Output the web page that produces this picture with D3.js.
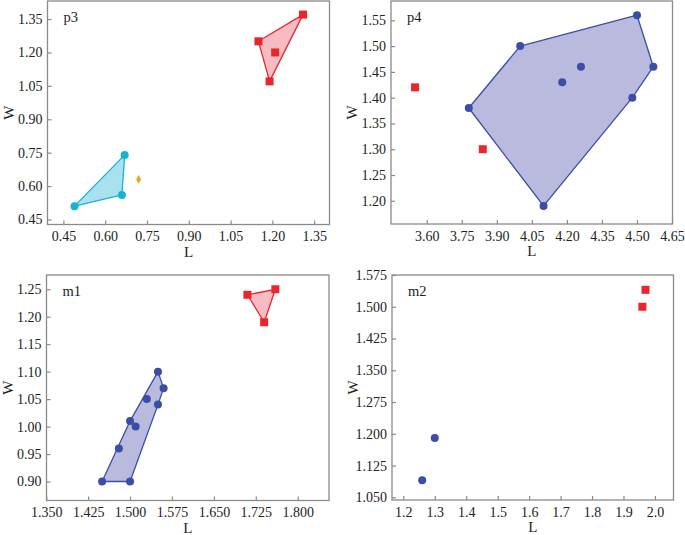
<!DOCTYPE html>
<html><head><meta charset="utf-8">
<script src="https://cdn.jsdelivr.net/npm/d3@7"></script>
<style>body{margin:0;background:#fff}svg{display:block}</style>
</head><body>
<svg id="c" width="685" height="535"></svg>
<script>
// ---- data ----
// p3
const p3Red = [[1.15,1.25],[1.31,1.37],[1.19,1.07],[1.21,1.20]];
const p3Cyan = [[0.49,0.51],[0.67,0.74],[0.66,0.56]];
const p3Orange = [[0.72,0.63]];
const p3XTicks = [0.45,0.60,0.75,0.90,1.05,1.20,1.35];
const p3YTicks = [0.45,0.60,0.75,0.90,1.05,1.20,1.35];
// p4
const p4Blue = [[4.00,1.50],[4.50,1.56],[4.57,1.46],[4.48,1.40],[4.10,1.19],[3.78,1.38],[4.18,1.43],[4.26,1.46]];
const p4Red = [[3.55,1.42],[3.84,1.30]];
const p4XTicks = [3.60,3.75,3.90,4.05,4.20,4.35,4.50,4.65];
const p4YTicks = [1.20,1.25,1.30,1.35,1.40,1.45,1.50,1.55];
// m1
const m1Red = [[1.71,1.24],[1.76,1.25],[1.74,1.19]];
const m1Blue = [[1.45,0.90],[1.50,0.90],[1.48,0.96],[1.50,1.01],[1.51,1.00],[1.53,1.05],[1.55,1.10],[1.56,1.07],[1.55,1.04]];
const m1XTicks = [1.350,1.425,1.500,1.575,1.650,1.725,1.800];
const m1YTicks = [0.90,0.95,1.00,1.05,1.10,1.15,1.20,1.25];
// m2
const m2Blue = [[1.26,1.09],[1.30,1.19]];
const m2Red = [[1.97,1.54],[1.96,1.50]];
const m2XTicks = [1.2,1.3,1.4,1.5,1.6,1.7,1.8,1.9,2.0];
const m2YTicks = [1.050,1.125,1.200,1.275,1.350,1.425,1.500,1.575];

const RED = "#e8262b", RED_FILL = "rgba(240,120,135,0.5)";
const CYAN = "#14b4d2", CYAN_FILL = "rgba(100,200,225,0.55)";
const BLUE = "#3a4ea6", BLUE_FILL = "rgba(140,140,200,0.6)";
const ORANGE = "#f5a020";

const panels = [
  {label:"p3", box:[47.5,1,329.5,224.5], xd:[0.393,1.405], yd:[0.4275,1.431], xt:p3XTicks, yt:p3YTicks, xf:".2f", yf:".2f",
   groups:[{pts:p3Red,shape:"square",color:RED,fill:RED_FILL,hull:true},
           {pts:p3Cyan,shape:"circle",color:CYAN,fill:CYAN_FILL,hull:true},
           {pts:p3Orange,shape:"diamond",color:ORANGE}]},
  {label:"p4", box:[391,1,672.5,224], xd:[3.447,4.652], yd:[1.155,1.5875], xt:p4XTicks, yt:p4YTicks, xf:".2f", yf:".2f",
   groups:[{pts:p4Blue,shape:"circle",color:BLUE,fill:BLUE_FILL,hull:true},
           {pts:p4Red,shape:"square",color:RED}]},
  {label:"m1", box:[46.5,275,329,500.5], xd:[1.3505,1.856], yd:[0.8654,1.276], xt:m1XTicks, yt:m1YTicks, xf:".3f", yf:".2f",
   groups:[{pts:m1Red,shape:"square",color:RED,fill:RED_FILL,hull:true},
           {pts:m1Blue,shape:"circle",color:BLUE,fill:BLUE_FILL,hull:true}]},
  {label:"m2", box:[392,275,673.5,500], xd:[1.164,2.059], yd:[1.0436,1.575], xt:m2XTicks, yt:m2YTicks, xf:".1f", yf:".3f",
   groups:[{pts:m2Blue,shape:"circle",color:BLUE},
           {pts:m2Red,shape:"square",color:RED}]}
];

const svg = d3.select("#c");
const FONT = "Liberation Serif, Times New Roman, serif";
const FRAME = "#8a8a8a";

panels.forEach(p => {
  const [x0,y0,x1,y1] = p.box;
  const x = d3.scaleLinear().domain(p.xd).range([x0,x1]);
  const y = d3.scaleLinear().domain(p.yd).range([y1,y0]);
  const g = svg.append("g");

  const xa = g.append("g").attr("transform",`translate(0,${y1})`)
    .call(d3.axisBottom(x).tickValues(p.xt).tickFormat(d3.format(p.xf)).tickSizeInner(-4).tickSizeOuter(0).tickPadding(7));
  const ya = g.append("g").attr("transform",`translate(${x0},0)`)
    .call(d3.axisLeft(y).tickValues(p.yt).tickFormat(d3.format(p.yf)).tickSizeInner(-4).tickSizeOuter(0).tickPadding(5));
  [xa,ya].forEach(a=>{
    a.select(".domain").remove();
    a.selectAll("line").attr("stroke",FRAME).attr("stroke-width",1.2);
    a.selectAll("text").attr("font-family",FONT).attr("font-size",14).attr("fill","#222");
  });
  xa.selectAll(".tick line").attr("y2",-4);
  ya.selectAll(".tick line").attr("x2",4);

  g.append("rect").attr("x",x0).attr("y",y0).attr("width",x1-x0).attr("height",y1-y0)
    .attr("fill","none").attr("stroke",FRAME).attr("stroke-width",1.3);

  g.append("text").attr("x",(x0+x1)/2).attr("y",y1+32).attr("text-anchor","middle")
    .attr("font-family",FONT).attr("font-size",15).attr("fill","#222").text("L");
  g.append("text").attr("transform",`translate(${x0-34},${(y0+y1)/2}) rotate(-90)`).attr("text-anchor","middle")
    .attr("font-family",FONT).attr("font-size",15).attr("fill","#222").text("W");

  g.append("text").attr("x",x0+16).attr("y",y0+21).attr("font-family",FONT).attr("font-size",14.5)
    .attr("fill","#222").text(p.label);

  p.groups.filter(gr=>gr.hull).forEach(gr=>{
    const hull = d3.polygonHull(gr.pts.map(d=>[x(d[0]),y(d[1])]));
    g.append("path").attr("d","M"+hull.join("L")+"Z")
      .attr("fill",gr.fill).attr("stroke",gr.color).attr("stroke-width",1.3).attr("stroke-linejoin","round");
  });
  p.groups.forEach(gr=>{
    gr.pts.forEach(d=>{
      const cx=x(d[0]), cy=y(d[1]);
      if(gr.shape==="circle"){
        g.append("circle").attr("cx",cx).attr("cy",cy).attr("r",4).attr("fill",gr.color);
      } else if(gr.shape==="square"){
        g.append("rect").attr("x",cx-4).attr("y",cy-4).attr("width",8).attr("height",8).attr("fill",gr.color);
      } else {
        g.append("path").attr("d",d3.symbol(d3.symbolDiamond,22)()).attr("transform",`translate(${cx},${cy})`).attr("fill",gr.color);
      }
    });
  });
});
</script>
</body></html>
